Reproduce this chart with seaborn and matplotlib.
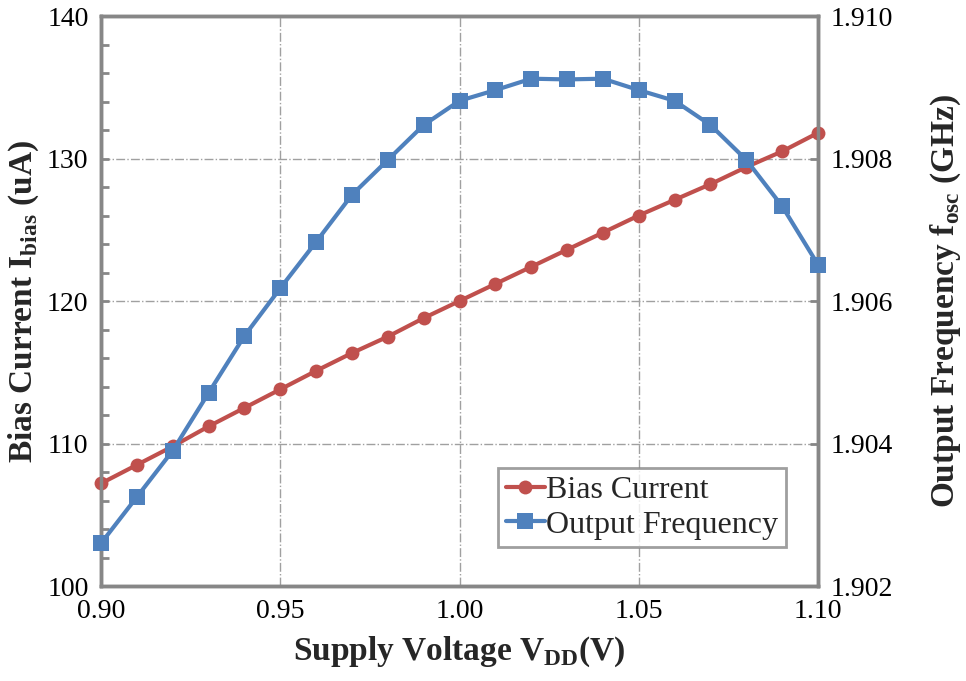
import numpy as np
import pandas as pd
import seaborn as sns
import matplotlib.pyplot as plt
from matplotlib.ticker import MultipleLocator, FormatStrFormatter
from matplotlib.lines import Line2D

# supply voltage sweep (V)
vdd = [0.90, 0.91, 0.92, 0.93, 0.94, 0.95, 0.96, 0.97, 0.98, 0.99, 1.00,
       1.01, 1.02, 1.03, 1.04, 1.05, 1.06, 1.07, 1.08, 1.09, 1.10]
# bias current (uA)
bias_current = [107.2, 108.5, 109.8, 111.2, 112.5, 113.8, 115.1, 116.35, 117.5, 118.8, 120.0,
                121.2, 122.4, 123.6, 124.8, 126.0, 127.1, 128.2, 129.4, 130.5, 131.8]
# output frequency (GHz)
out_freq = [1.90260, 1.90325, 1.90390, 1.90471, 1.90551, 1.90618, 1.90683, 1.90749, 1.90798, 1.90847, 1.90881,
            1.90896, 1.90912, 1.90911, 1.90912, 1.90896, 1.90881, 1.90847, 1.90798, 1.90733, 1.90651]

df = pd.DataFrame({'vdd': vdd, 'bias': bias_current, 'freq': out_freq})

red = '#C0504D'
blue = '#4F81BD'
gray = '#878787'

sns.set_style('white')
plt.rcParams['font.family'] = ['Liberation Serif', 'DejaVu Serif']
plt.rcParams['mathtext.fontset'] = 'custom'
plt.rcParams['mathtext.rm'] = 'Liberation Serif'
plt.rcParams['mathtext.bf'] = 'Liberation Serif:bold'

fig = plt.figure(figsize=(9.66, 6.81), dpi=100)
ax = fig.add_axes([0.1046, 0.1395, 0.7422, 0.837])
ax2 = ax.twinx()

sns.lineplot(data=df, x='vdd', y='bias', ax=ax, color=red, linewidth=3,
             marker='o', markersize=10, markeredgewidth=0, zorder=3, clip_on=False)
sns.lineplot(data=df, x='vdd', y='freq', ax=ax2, color=blue, linewidth=3,
             marker='s', markersize=11, markeredgewidth=0, zorder=3, clip_on=False)

ax.set_xlim(0.90, 1.10)
ax.set_ylim(100, 140)
ax2.set_ylim(1.902, 1.910)

ax.xaxis.set_major_locator(MultipleLocator(0.05))
ax.xaxis.set_major_formatter(FormatStrFormatter('%.2f'))
ax.yaxis.set_major_locator(MultipleLocator(10))
ax.yaxis.set_minor_locator(MultipleLocator(2))
ax2.yaxis.set_major_locator(MultipleLocator(0.002))
ax2.yaxis.set_major_formatter(FormatStrFormatter('%.3f'))

ax.grid(True, which='major', color='#a0a0a0', linestyle='-.', linewidth=1)
ax.set_axisbelow(True)

for a in (ax, ax2):
    for s in a.spines.values():
        s.set_color(gray)
        s.set_linewidth(2.5)
    a.tick_params(direction='in', colors=gray, labelcolor='black',
                  labelsize=20, length=6, width=2, pad=9)
ax.tick_params(which='minor', direction='in', colors=gray, length=6, width=2, left=True)

ax.set_xlabel(r'Supply Voltage V$_{\mathbf{DD}}$(V)', fontsize=24, fontweight='bold', labelpad=8)
ax.set_ylabel(r'Bias Current I$_{\mathbf{bias}}$ (uA)', fontsize=24, fontweight='bold', labelpad=4)
ax2.set_ylabel(r'Output Frequency f$_{\mathbf{osc}}$ (GHz)', fontsize=24, fontweight='bold', labelpad=26)

handles = [Line2D([], [], color=red, lw=3, marker='o', markersize=10, markeredgewidth=0),
           Line2D([], [], color=blue, lw=3, marker='s', markersize=11, markeredgewidth=0)]
leg = ax2.legend(handles, ['Bias Current', 'Output Frequency'], loc='upper left',
                 bbox_to_anchor=(0.554, 0.207), fontsize=23, frameon=True, fancybox=False,
                 handlelength=1.2, handletextpad=0.05, borderpad=0.25, labelspacing=0.15,
                 borderaxespad=0)
leg.get_frame().set_edgecolor(gray)
leg.get_frame().set_linewidth(2)

fig.savefig('out.png', dpi=100)
